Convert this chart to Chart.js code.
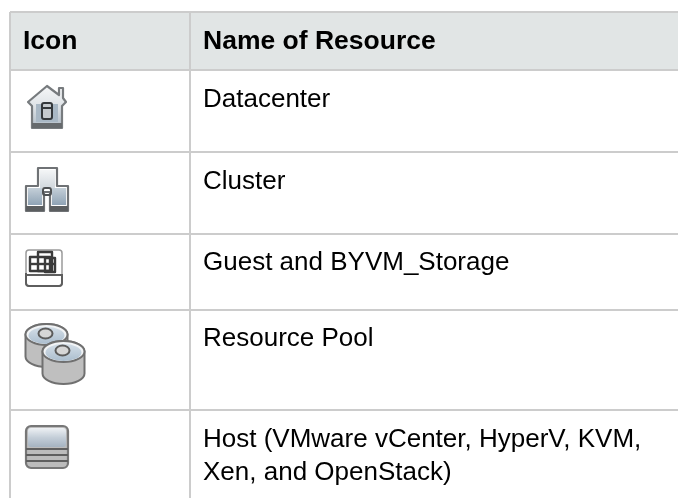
<!DOCTYPE html>
<html>
<head>
<meta charset="utf-8">
<style>
  html, body { margin: 0; padding: 0; background: #fff; }
  #wrap { width: 678px; height: 498px; }
</style>
<script src="https://cdn.jsdelivr.net/npm/chart.js@4"></script>
</head>
<body>
<div id="wrap"><canvas id="chart"></canvas></div>
<script>
"use strict";

const HEADERS = ["Icon", "Name of Resource"];
const ICONS = ["datacenter", "cluster", "guest", "pool", "host"];
const RESOURCES = [
  ["Datacenter"],
  ["Cluster"],
  ["Guest and BYVM_Storage"],
  ["Resource Pool"],
  ["Host (VMware vCenter, HyperV, KVM,", "Xen, and OpenStack)"],
];
// Table rules, in page pixels along each axis.
const COLUMN_RULES = [10, 190];
const ROW_RULES = [12, 70, 152, 234, 310, 410];
// Baseline of the first text line, below the rule that opens each row.
const ROW_BASELINES = [37, 37, 36, 36, 37];

const FONT = '"Liberation Sans", Arial, sans-serif';
const RULE = "#cccccc";

function vGrad(ctx, y0, y1, stops) {
  const g = ctx.createLinearGradient(0, y0, 0, y1);
  stops.forEach((s, i) => g.addColorStop(i / (stops.length - 1), s));
  return g;
}

function path(ctx, pts) {
  ctx.beginPath();
  pts.forEach((p, i) => (i ? ctx.lineTo(p[0], p[1]) : ctx.moveTo(p[0], p[1])));
  ctx.closePath();
}

// Each icon draws around its own top-left corner.
const ICON_DRAW = {
  datacenter(ctx) {
    ctx.lineJoin = "round";
    path(ctx, [[21, 2], [33, 11], [33, 4], [37, 4], [37, 14], [40, 18], [36, 22], [36, 44], [6, 44], [6, 22], [2, 18]]);
    ctx.fillStyle = vGrad(ctx, 2, 44, ["#f6f7f8", "#dde2e6", "#aebac5"]);
    ctx.fill();
    ctx.strokeStyle = "#777b7e";
    ctx.lineWidth = 2.2;
    ctx.stroke();
    ctx.fillStyle = "#666a6d";
    ctx.fillRect(6, 39, 30, 5);
    ctx.fillStyle = "#a9b8c5";
    ctx.fillRect(10, 20, 22, 18);
    ctx.fillStyle = "#c5cace";
    ctx.fillRect(16, 20, 10, 15);
    ctx.strokeStyle = "#34383b";
    ctx.lineWidth = 2;
    ctx.beginPath();
    ctx.roundRect(16, 19, 10, 16, 2);
    ctx.stroke();
    ctx.beginPath();
    ctx.moveTo(16, 24);
    ctx.lineTo(26, 24);
    ctx.stroke();
  },
  cluster(ctx) {
    ctx.lineJoin = "round";
    path(ctx, [[13, 1], [32, 1], [32, 19], [43, 19], [43, 44], [25, 44], [25, 25], [19, 25], [19, 44], [1, 44], [1, 19], [13, 19]]);
    ctx.fillStyle = "#ffffff";
    ctx.fill();
    ctx.strokeStyle = "#6f7275";
    ctx.lineWidth = 2.2;
    ctx.stroke();
    ctx.fillStyle = vGrad(ctx, 3, 19, ["#f4f6f7", "#d5dbe0"]);
    ctx.fillRect(15, 3, 15, 18);
    ctx.fillStyle = vGrad(ctx, 21, 38, ["#c4cfd8", "#8fa3b5"]);
    ctx.fillRect(3, 21, 14, 17);
    ctx.fillRect(27, 21, 14, 17);
    ctx.fillStyle = "#5b5e60";
    ctx.fillRect(1, 39, 18, 5);
    ctx.fillRect(25, 39, 18, 5);
    ctx.strokeStyle = "#4e5153";
    ctx.lineWidth = 2;
    ctx.beginPath();
    ctx.roundRect(18, 21, 8, 7, 2);
    ctx.stroke();
  },
  guest(ctx) {
    ctx.lineJoin = "round";
    ctx.strokeStyle = "#9a9a9a";
    ctx.lineWidth = 1.5;
    ctx.beginPath();
    ctx.roundRect(1, 1, 36, 36, 3);
    ctx.stroke();
    ctx.strokeStyle = "#5e5e5e";
    ctx.lineWidth = 2;
    ctx.beginPath();
    ctx.moveTo(1, 24);
    ctx.lineTo(1, 34);
    ctx.quadraticCurveTo(1, 37, 4, 37);
    ctx.lineTo(34, 37);
    ctx.quadraticCurveTo(37, 37, 37, 34);
    ctx.lineTo(37, 25);
    ctx.moveTo(2, 26);
    ctx.lineTo(36, 26);
    ctx.stroke();
    ctx.strokeStyle = "#3b3b3b";
    ctx.lineWidth = 2.4;
    ctx.strokeRect(5, 8, 20, 14);
    ctx.strokeRect(13, 3, 14, 19);
    ctx.strokeRect(20, 9, 10, 14);
    ctx.beginPath();
    ctx.moveTo(5, 15);
    ctx.lineTo(30, 15);
    ctx.stroke();
  },
  pool(ctx) {
    const drum = (cx, cy) => {
      const rx = 21, ry = 10.5, h = 22;
      ctx.beginPath();
      ctx.ellipse(cx, cy, rx, ry, 0, Math.PI, 0);
      ctx.lineTo(cx + rx, cy + h);
      ctx.ellipse(cx, cy + h, rx, ry, 0, 0, Math.PI);
      ctx.closePath();
      ctx.fillStyle = "#bfbfbf";
      ctx.fill();
      ctx.strokeStyle = "#707070";
      ctx.lineWidth = 2;
      ctx.stroke();
      ctx.beginPath();
      ctx.ellipse(cx, cy, rx, ry, 0, 0, Math.PI * 2);
      ctx.fillStyle = "#f2f4f6";
      ctx.fill();
      ctx.stroke();
      ctx.beginPath();
      ctx.ellipse(cx, cy + 1, rx - 3, ry - 2, 0, 0, Math.PI * 2);
      ctx.fillStyle = vGrad(ctx, cy - ry, cy + ry, ["#dbe4ec", "#a9bccd"]);
      ctx.fill();
      ctx.beginPath();
      ctx.ellipse(cx - 1, cy - 1, 7, 5, 0, 0, Math.PI * 2);
      ctx.fillStyle = "#d6d6d6";
      ctx.fill();
      ctx.strokeStyle = "#5c5c5c";
      ctx.stroke();
    };
    drum(21.5, 10.5);
    drum(38.5, 27.5);
  },
  host(ctx) {
    ctx.beginPath();
    ctx.roundRect(1, 1, 42, 42, 5);
    ctx.fillStyle = "#bcbcbc";
    ctx.fill();
    ctx.strokeStyle = "#777777";
    ctx.lineWidth = 2.2;
    ctx.stroke();
    ctx.beginPath();
    ctx.roundRect(3, 3, 38, 19, 3);
    ctx.fillStyle = vGrad(ctx, 3, 22, ["#eef1f4", "#c4ced8", "#a5b3c1"]);
    ctx.fill();
    ctx.fillStyle = "#5f5f5f";
    ctx.fillRect(1, 23, 42, 2);
    ctx.fillRect(1, 29, 42, 2);
    ctx.fillRect(1, 35, 42, 2);
  },
};
const ICON_ORIGINS = [[26, 84], [25, 167], [25, 249], [25, 324], [25, 425]];

const tablePlugin = {
  id: "table",
  beforeDraw(chart) {
    const { ctx, scales: { x, y } } = chart;
    // header band sits under the rules
    ctx.save();
    ctx.fillStyle = "#e1e5e5";
    ctx.fillRect(x.left, y.getPixelForValue(ROW_RULES[0]), x.right - x.left,
      y.getPixelForValue(ROW_RULES[1]) - y.getPixelForValue(ROW_RULES[0]));
    ctx.restore();
  },
  afterDraw(chart) {
    const { ctx, scales: { x, y } } = chart;
    const colX = COLUMN_RULES.map((c) => x.getPixelForValue(c) + 13);
    ctx.save();
    ctx.textBaseline = "alphabetic";
    ctx.fillStyle = "#000";
    ctx.font = `bold 26.5px ${FONT}`;
    HEADERS.forEach((h, i) => ctx.fillText(h, colX[i], y.getPixelForValue(ROW_RULES[0]) + 37));
    ctx.font = `26px ${FONT}`;
    RESOURCES.forEach((lines, r) => {
      const top = y.getPixelForValue(ROW_RULES[r + 1]);
      lines.forEach((line, l) => ctx.fillText(line, colX[1], top + ROW_BASELINES[r] + l * 33));
    });
    ctx.restore();
    ICONS.forEach((name, i) => {
      ctx.save();
      ctx.translate(ICON_ORIGINS[i][0], ICON_ORIGINS[i][1]);
      ctx.filter = "blur(0.6px)"; // the icons are soft in the original
      ICON_DRAW[name](ctx);
      ctx.restore();
    });
  },
};

function ruleAxis(min, max, rules, reverse) {
  return {
    type: "linear",
    min,
    max,
    reverse,
    border: { display: false },
    grid: { color: RULE, lineWidth: 2, drawTicks: false },
    ticks: { display: false },
    afterBuildTicks: (axis) => { axis.ticks = rules.map((value) => ({ value })); },
  };
}

new Chart(document.getElementById("chart"), {
  type: "scatter",
  data: { datasets: [{ data: [] }] },
  options: {
    responsive: true,
    maintainAspectRatio: false,
    animation: false,
    layout: { padding: { left: COLUMN_RULES[0], top: ROW_RULES[0], right: 0, bottom: 0 } },
    plugins: { legend: { display: false }, tooltip: { enabled: false } },
    scales: {
      x: ruleAxis(COLUMN_RULES[0], 678, COLUMN_RULES, false),
      y: ruleAxis(ROW_RULES[0], 498, ROW_RULES, true),
    },
  },
  plugins: [tablePlugin],
});
</script>
</body>
</html>
